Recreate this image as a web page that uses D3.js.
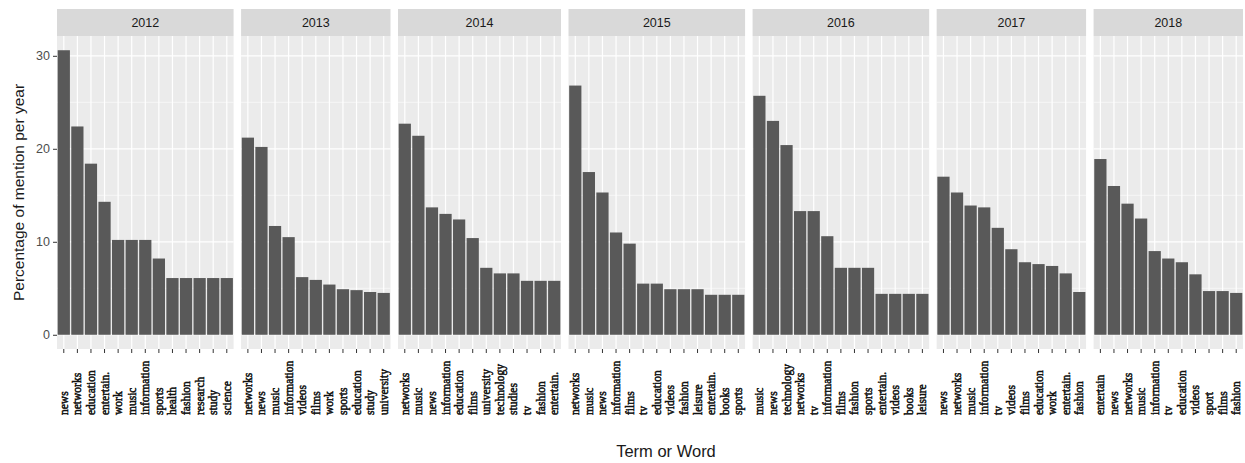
<!DOCTYPE html>
<html>
<head>
<meta charset="utf-8">
<script src="https://cdn.jsdelivr.net/npm/d3@7"></script>
<style>
  html, body { margin: 0; padding: 0; background: #ffffff; }
  svg { display: block; }
</style>
</head>
<body>
<svg id="chart" width="1245" height="463"></svg>
<script>
const years = ["2012", "2013", "2014", "2015", "2016", "2017", "2018"];

const terms2012 = ["news", "networks", "education", "entertain.", "work", "music", "information", "sports", "health", "fashion", "research", "study", "science"];
const values2012 = [30.6, 22.4, 18.4, 14.3, 10.2, 10.2, 10.2, 8.2, 6.1, 6.1, 6.1, 6.1, 6.1];

const terms2013 = ["networks", "news", "music", "information", "videos", "films", "work", "sports", "education", "study", "university"];
const values2013 = [21.2, 20.2, 11.7, 10.5, 6.2, 5.9, 5.4, 4.9, 4.8, 4.6, 4.5];

const terms2014 = ["networks", "music", "news", "information", "education", "films", "university", "technology", "studies", "tv", "fashion", "entertain."];
const values2014 = [22.7, 21.4, 13.7, 13.0, 12.4, 10.4, 7.2, 6.6, 6.6, 5.8, 5.8, 5.8];

const terms2015 = ["networks", "music", "news", "information", "films", "tv", "education", "videos", "fashion", "leisure", "entertain.", "books", "sports"];
const values2015 = [26.8, 17.5, 15.3, 11.0, 9.8, 5.5, 5.5, 4.9, 4.9, 4.9, 4.3, 4.3, 4.3];

const terms2016 = ["music", "news", "technology", "networks", "tv", "information", "films", "fashion", "sports", "entertain.", "videos", "books", "leisure"];
const values2016 = [25.7, 23.0, 20.4, 13.3, 13.3, 10.6, 7.2, 7.2, 7.2, 4.4, 4.4, 4.4, 4.4];

const terms2017 = ["news", "networks", "music", "information", "tv", "videos", "films", "education", "work", "entertain.", "fashion"];
const values2017 = [17.0, 15.3, 13.9, 13.7, 11.5, 9.2, 7.8, 7.6, 7.4, 6.6, 4.6];

const terms2018 = ["entertain", "news", "networks", "music", "information", "tv", "education", "videos", "sport", "films", "fashion"];
const values2018 = [18.9, 16.0, 14.1, 12.5, 9.0, 8.2, 7.8, 6.5, 4.7, 4.7, 4.5];

const yTicks = [0, 10, 20, 30];
const yMinor = [5, 15, 25];
const yTitle = "Percentage of mention per year";
const xTitle = "Term or Word";

const panels = [
  { year: years[0], terms: terms2012, values: values2012 },
  { year: years[1], terms: terms2013, values: values2013 },
  { year: years[2], terms: terms2014, values: values2014 },
  { year: years[3], terms: terms2015, values: values2015 },
  { year: years[4], terms: terms2016, values: values2016 },
  { year: years[5], terms: terms2017, values: values2017 },
  { year: years[6], terms: terms2018, values: values2018 }
];

const svg = d3.select("#chart");
const left = 57, right = 1243, gap = 7.5;
const stripTop = 9, panelTop = 36, panelBottom = 349;
const totalN = d3.sum(panels, p => p.terms.length);
const step = (right - left - gap * (panels.length - 1)) / totalN;

const allMax = d3.max(panels, p => d3.max(p.values));
const pad = allMax * 0.05;
const y = d3.scaleLinear().domain([-pad, allMax + pad]).range([panelBottom, panelTop]);

let x0 = left;
panels.forEach(p => {
  const w = p.terms.length * step;
  p.x = d3.scaleBand().domain(p.terms).range([x0, x0 + w]).paddingInner(0.1).paddingOuter(0.05);
  p.x0 = x0; p.w = w;
  x0 += w + gap;
});

panels.forEach(p => {
  const g = svg.append("g");
  g.append("rect").attr("x", p.x0).attr("y", stripTop).attr("width", p.w).attr("height", panelTop - stripTop).attr("fill", "#d9d9d9");
  g.append("text").attr("x", p.x0 + p.w / 2).attr("y", (stripTop + panelTop) / 2).attr("dy", "0.35em")
    .attr("text-anchor", "middle").attr("font-family", "Liberation Sans, Arial, sans-serif").attr("font-size", 12.5)
    .attr("fill", "#1a1a1a").text(p.year);
  g.append("rect").attr("x", p.x0).attr("y", panelTop).attr("width", p.w).attr("height", panelBottom - panelTop).attr("fill", "#ebebeb");
  g.selectAll(".minor").data(yMinor).join("line")
    .attr("x1", p.x0).attr("x2", p.x0 + p.w).attr("y1", d => y(d)).attr("y2", d => y(d))
    .attr("stroke", "#ffffff").attr("stroke-width", 0.6);
  g.selectAll(".major").data(yTicks).join("line")
    .attr("x1", p.x0).attr("x2", p.x0 + p.w).attr("y1", d => y(d)).attr("y2", d => y(d))
    .attr("stroke", "#ffffff").attr("stroke-width", 1.2);
  g.selectAll(".vgrid").data(p.terms).join("line")
    .attr("x1", d => p.x(d) + p.x.bandwidth() / 2).attr("x2", d => p.x(d) + p.x.bandwidth() / 2)
    .attr("y1", panelTop).attr("y2", panelBottom)
    .attr("stroke", "#ffffff").attr("stroke-width", 1.2);
  g.selectAll(".bar").data(p.terms.map((t, i) => ({ t, v: p.values[i] }))).join("rect")
    .attr("x", d => p.x(d.t)).attr("width", p.x.bandwidth())
    .attr("y", d => y(d.v)).attr("height", d => y(0) - y(d.v))
    .attr("fill", "#595959");
  const ax = svg.append("g").attr("transform", `translate(0,${panelBottom})`)
    .call(d3.axisBottom(p.x).tickSize(4).tickSizeOuter(0));
  ax.select(".domain").remove();
  ax.selectAll(".tick line").attr("stroke", "#333333").attr("stroke-width", 1);
  ax.selectAll(".tick text")
    .attr("transform", "rotate(-90)")
    .attr("x", -66).attr("y", 0).attr("dy", "0.35em")
    .attr("text-anchor", "start")
    .attr("font-family", "Liberation Serif, Times New Roman, serif")
    .attr("font-size", 11.5)
    .attr("fill", "#111111")
    .attr("stroke", "#111111").attr("stroke-width", 0.5);
});

const ay = svg.append("g").attr("transform", `translate(${left},0)`)
  .call(d3.axisLeft(y).tickValues(yTicks).tickSize(4).tickSizeOuter(0));
ay.select(".domain").remove();
ay.selectAll(".tick line").attr("stroke", "#333333");
ay.selectAll(".tick text").attr("font-family", "Liberation Sans, Arial, sans-serif").attr("font-size", 12.5)
  .attr("fill", "#4d4d4d").attr("x", -7);

svg.append("text").attr("transform", `translate(19,${(panelTop + panelBottom) / 2}) rotate(-90)`)
  .attr("text-anchor", "middle").attr("dy", "0.35em")
  .attr("font-family", "Liberation Sans, Arial, sans-serif").attr("font-size", 15.5)
  .attr("fill", "#1a1a1a").text(yTitle);

svg.append("text").attr("x", 666).attr("y", 456.5).attr("text-anchor", "middle")
  .attr("font-family", "Liberation Sans, Arial, sans-serif").attr("font-size", 16.5)
  .attr("fill", "#1a1a1a").text(xTitle);
</script>
</body>
</html>
